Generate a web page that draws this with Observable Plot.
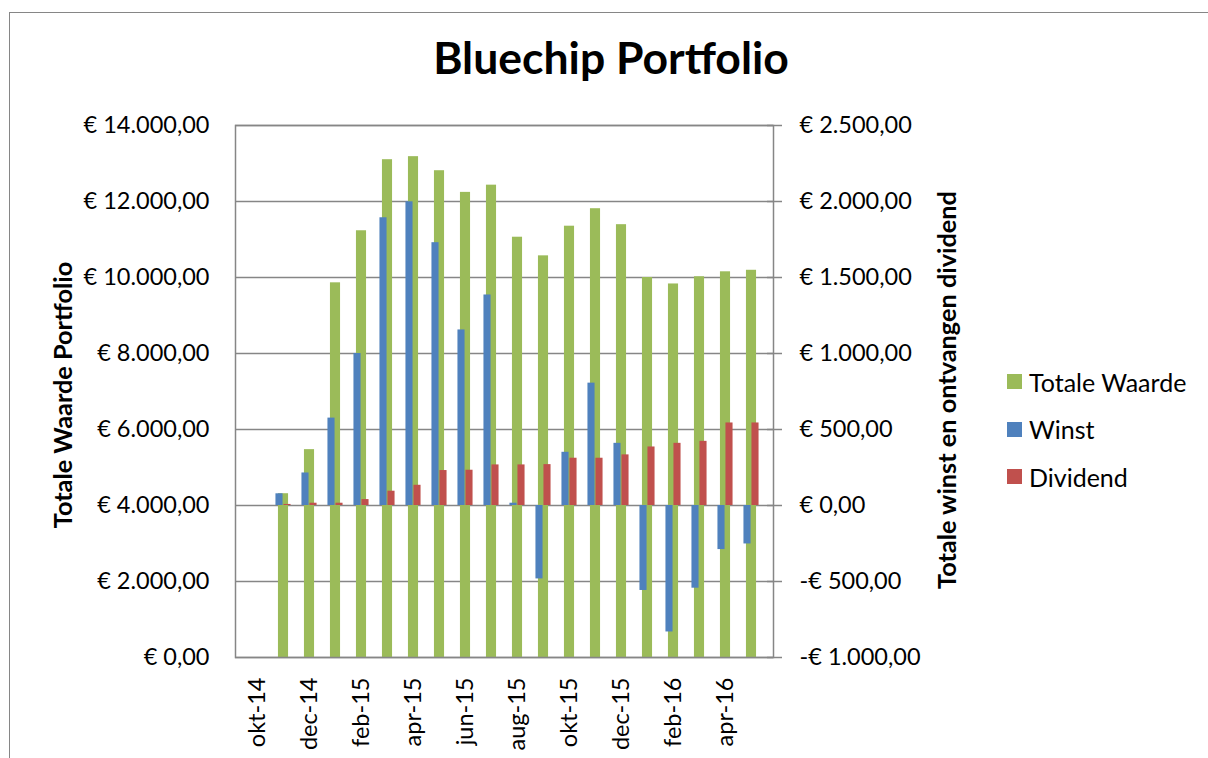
<!DOCTYPE html>
<html>
<head>
<meta charset="utf-8">
<script src="https://cdn.jsdelivr.net/npm/d3@7"></script>
<script src="https://cdn.jsdelivr.net/npm/@observablehq/plot@0.6"></script>
<style>
  body { margin: 0; background: #fff; font-family: Lato, "Open Sans", sans-serif; }
  #wrap { position: relative; width: 1208px; height: 758px; overflow: hidden; background: #fff; }
  #frame { position: absolute; left: 9px; top: 12px; width: 1400px; height: 1000px; border: 1.5px solid #868686; box-sizing: border-box; }
  #chart { position: absolute; left: 0; top: 0; }
  #title { position: absolute; left: 0; width: 1222px; top: 30px; text-align: center; font-weight: bold; font-size: 44.5px; color: #000; line-height: 1.2; }
  .ytitle { position: absolute; font-weight: bold; font-size: 25.3px; color: #000; white-space: nowrap; transform: translate(-50%, -50%) rotate(-90deg); }
  #legend { position: absolute; left: 1007px; top: 358px; font-size: 25px; color: #000; }
  #legend .row { display: flex; align-items: center; height: 47.5px; }
  #legend .sw { width: 15px; height: 15px; margin-right: 7px; }
</style>
</head>
<body>
<div id="wrap">
  <div id="frame"></div>
  <div id="chart"></div>
  <div id="title">Bluechip Portfolio</div>
  <div class="ytitle" style="left:62px; top:395px;">Totale Waarde Portfolio</div>
  <div class="ytitle" style="left:946px; top:390px;">Totale winst en ontvangen dividend</div>
  <div id="legend"></div>
</div>
<script>
const months = ["okt-14","nov-14","dec-14","jan-15","feb-15","mrt-15","apr-15","mei-15","jun-15","jul-15",
                "aug-15","sep-15","okt-15","nov-15","dec-15","jan-16","feb-16","mrt-16","apr-16","mei-16"];
const totaleWaarde = [null, 4310, 5470, 9860, 11230, 13100, 13180, 12810, 12240, 12430,
                      11060, 10570, 11350, 11810, 11390, 10000, 9830, 10020, 10150, 10190];
const winst = [null, 77, 214, 575, 1000, 1893, 1998, 1729, 1155, 1385,
               15, -483, 350, 805, 409, -559, -832, -544, -290, -253];
const dividend = [null, 7, 15, 15, 39, 94, 133, 230, 232, 267,
                  267, 269, 311, 311, 333, 385, 409, 422, 543, 543];
const leftTicks = [0, 2000, 4000, 6000, 8000, 10000, 12000, 14000];
const rightTicks = [-1000, -500, 0, 500, 1000, 1500, 2000, 2500];
const seriesNames = ["Totale Waarde", "Winst", "Dividend"];
const seriesColors = ["#9BBB59", "#4F81BD", "#C0504D"];

const W = 1208, H = 758;
const mL = 235, mR = W - 773, mT = 125, mB = H - 657;
const bw = (W - mL - mR) / months.length;
// secondary axis (-1000..2500) mapped onto primary (0..14000)
const toLeft = v => (v + 1000) * 14000 / 3500;
const fromLeft = y => y * 3500 / 14000 - 1000;
const nl = d3.formatLocale({decimal: ",", thousands: ".", grouping: [3], currency: ["€ ", ""]});
const fmt = nl.format(",.2f");
const euro = v => (v < 0 ? "-" : "") + "€ " + fmt(Math.abs(v));

const rows = months.map((m, i) => ({m, tw: totaleWaarde[i], w: winst[i], d: dividend[i]}));
const valid = rows.filter(r => r.tw != null);
const fs = 23.5;

const chart = Plot.plot({
  width: W, height: H,
  marginLeft: mL, marginRight: mR, marginTop: mT, marginBottom: mB,
  style: {fontFamily: "Lato, 'Open Sans', sans-serif", fontSize: fs + "px", color: "#000", background: "transparent", overflow: "visible"},
  x: {type: "band", domain: months, padding: 0},
  y: {domain: [0, 14000]},
  marks: [
    Plot.gridY(leftTicks, {stroke: "#868686", strokeOpacity: 1, strokeWidth: 1.5}),
    Plot.barY(valid, {x: "m", y: "tw", fill: seriesColors[0], insetLeft: bw / 2 - 5.5, insetRight: bw / 2 - 5.5}),
    Plot.barY(valid, {x: "m", y1: toLeft(0), y2: r => toLeft(r.w), fill: seriesColors[1], insetLeft: bw / 2 - 8, insetRight: bw / 2}),
    Plot.barY(valid, {x: "m", y1: toLeft(0), y2: r => toLeft(r.d), fill: seriesColors[2], insetLeft: bw / 2, insetRight: bw / 2 - 8}),
    Plot.frame({stroke: "#868686", strokeWidth: 1.5}),
    Plot.axisY(leftTicks, {anchor: "left", tickSize: 0, tickPadding: 26, tickFormat: euro, label: null, fontSize: fs}),
    Plot.axisY(rightTicks.map(toLeft), {anchor: "right", tickSize: 8, tickPadding: 18, tickFormat: d => euro(fromLeft(d)), label: null, stroke: "#868686", strokeWidth: 1.5, fontSize: fs}),
    Plot.axisY(rightTicks.map(toLeft), {anchor: "right", tickSize: 7, dx: -7, tickFormat: () => "", label: null, stroke: "#868686", strokeWidth: 1.5}),
    Plot.axisX(months.filter((_, i) => i % 2 === 0), {anchor: "bottom", tickSize: 0, tickPadding: 20, tickRotate: -90, label: null, fontSize: fs})
  ]
});
document.getElementById("chart").appendChild(chart);

const legend = document.getElementById("legend");
seriesNames.forEach((n, i) => {
  const row = document.createElement("div");
  row.className = "row";
  row.innerHTML = `<div class="sw" style="background:${seriesColors[i]}"></div><span>${n}</span>`;
  legend.appendChild(row);
});
</script>
</body>
</html>
